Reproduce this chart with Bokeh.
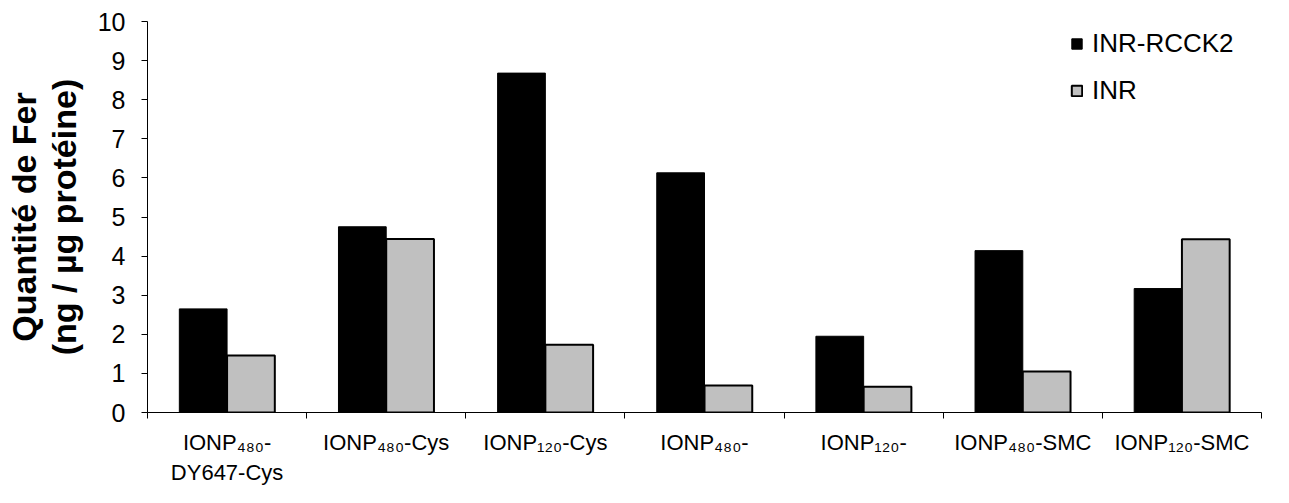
from bokeh.plotting import figure
from bokeh.models import ColumnDataSource, Legend, LegendItem, FixedTicker
from bokeh.embed import file_html
from bokeh.resources import INLINE

# ---- data ----
cat_main = ["IONP", "IONP", "IONP", "IONP", "IONP", "IONP", "IONP"]
cat_sub = ["480", "480", "120", "480", "120", "480", "120"]
cat_suffix = ["-", "-Cys", "-Cys", "-", "-", "-SMC", "-SMC"]
cat_line2 = ["DY647-Cys", "", "", "", "", "", ""]
inr_rcck2 = [2.65, 4.75, 8.68, 6.13, 1.95, 4.14, 3.17]
inr = [1.46, 4.44, 1.73, 0.69, 0.66, 1.05, 4.43]
series_names = ["INR-RCCK2", "INR"]
y_ticks = list(range(0, 11))

FONT = "Liberation Sans"
SUB = str.maketrans("0123456789", "₀₁₂₃₄₅₆₇₈₉")
n = len(cat_main)
centers = [i + 0.5 for i in range(n)]
bounds = list(range(0, n + 1))
BW = 0.3

labels = []
for i in range(n):
    t = cat_main[i] + cat_sub[i].translate(SUB) + cat_suffix[i]
    if cat_line2[i]:
        t += "\n" + cat_line2[i]
    labels.append(t)

src = ColumnDataSource(dict(
    xa=[c - BW / 2 for c in centers],
    xb=[c + BW / 2 for c in centers],
    a=inr_rcck2,
    b=inr,
))

p = figure(width=1273, height=487, output_backend="svg", toolbar_location=None,
           x_range=(0, n), y_range=(0, 10),
           min_border_left=147, min_border_right=12, min_border_top=21, min_border_bottom=74)
p.outline_line_color = None
p.xgrid.grid_line_color = None
p.ygrid.grid_line_color = None
p.background_fill_color = "white"
p.border_fill_color = "white"

r1 = p.vbar(x="xa", top="a", width=BW, source=src, fill_color="black", line_color="black", line_width=1)
r2 = p.vbar(x="xb", top="b", width=BW, source=src, fill_color="#C0C0C0", line_color="black", line_width=2)

# y axis
yax = p.yaxis[0]
yax.ticker = FixedTicker(ticks=y_ticks)
yax.major_label_text_font = FONT
yax.major_label_text_font_size = "25px"
yax.major_label_text_color = "black"
yax.major_tick_out = 6
yax.major_tick_in = 0
yax.minor_tick_out = 0
yax.minor_tick_in = 0
yax.major_label_standoff = 16
yax.axis_line_color = "black"
yax.major_tick_line_color = "black"
yax.axis_label = "Quantité de Fer\n(ng / µg protéine)"
yax.axis_label_text_font = FONT
yax.axis_label_text_font_style = "bold"
yax.axis_label_text_font_size = "34px"
yax.axis_label_text_line_height = 1.05
yax.axis_label_text_color = "black"
yax.axis_label_standoff = 12

# x axis: labels centred under groups (major ticks hidden), tick marks at group boundaries (minor)
xax = p.xaxis[0]
xax.ticker = FixedTicker(ticks=centers, minor_ticks=bounds)
xax.major_label_overrides = {c: l for c, l in zip(centers, labels)}
xax.major_label_text_font = FONT
xax.major_label_text_font_size = "22px"
xax.major_label_text_color = "black"
xax.major_label_standoff = 11
xax.major_tick_out = 0
xax.major_tick_in = 0
xax.major_tick_line_color = None
xax.minor_tick_out = 6
xax.minor_tick_in = 0
xax.minor_tick_line_color = "black"
xax.axis_line_color = "black"

legend = Legend(items=[LegendItem(label=series_names[0], renderers=[r1]),
                       LegendItem(label=series_names[1], renderers=[r2])],
                location=(923, 306))
legend.label_text_font = FONT
legend.label_text_font_size = "26px"
legend.label_text_color = "black"
legend.glyph_width = 13
legend.glyph_height = 13
legend.label_standoff = 9
legend.label_height = 30
legend.spacing = 16
legend.padding = 0
legend.margin = 0
legend.border_line_alpha = 0
legend.background_fill_alpha = 0
p.add_layout(legend, "center")

open("out.html", "w").write(file_html(p, INLINE))
